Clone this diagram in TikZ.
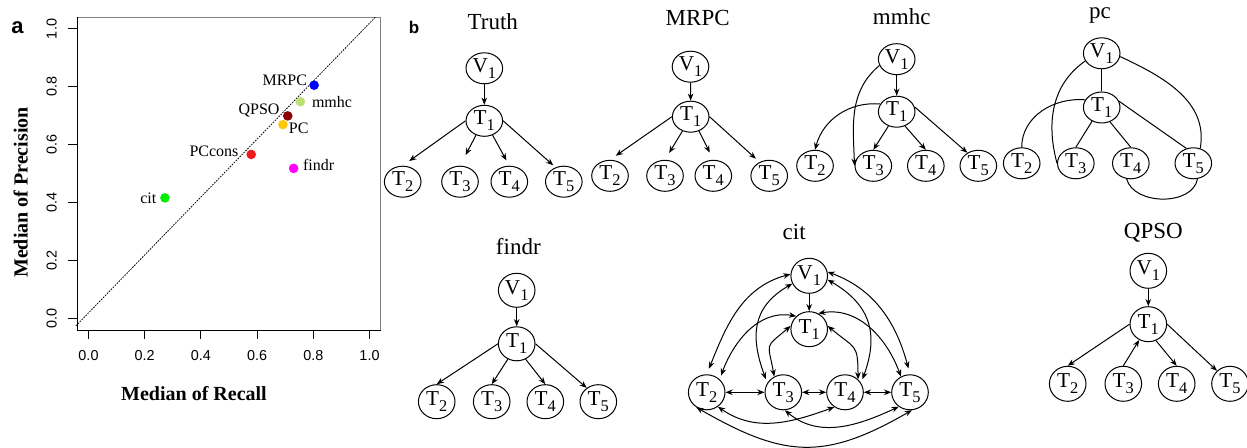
\documentclass[tikz,border=0pt]{standalone}
\usepackage{fontspec}
\setmainfont{Liberation Serif}
\setsansfont{Liberation Sans}
\usepackage{xcolor}
\usepackage{tikz}
\usetikzlibrary{positioning, shapes.geometric, arrows.meta}
\definecolor{ptBlue}{HTML}{0000FF}
\definecolor{ptLime}{HTML}{BBE172}
\definecolor{ptDarkRed}{HTML}{8B0000}
\definecolor{ptGold}{HTML}{FFC60A}
\definecolor{ptRed}{HTML}{F01818}
\definecolor{ptMagenta}{HTML}{FF00FF}
\definecolor{ptGreen}{HTML}{00EE00}
\definecolor{boxGray}{HTML}{808080}
\newcommand{\gv}[2]{#1\raisebox{-0.6ex}{\fontsize{8.2}{9}\selectfont #2}}
\tikzset{
  gnode/.style={
    ellipse, draw, line width=0.5pt,
    inner sep=0pt,
    minimum width=18.3pt, minimum height=#1,
    font=\fontsize{10.6}{11}\selectfont
  },
  gnode/.default=15.5pt,
  dedge/.style={-{Stealth[length=3.6pt, width=2.8pt]}, line width=0.5pt},
  bedge/.style={{Stealth[length=3.6pt, width=2.8pt]}-{Stealth[length=3.6pt, width=2.8pt]}, line width=0.5pt},
  uedge/.style={line width=0.5pt},
  gtitle/.style={anchor=base, inner sep=0pt, font=\fontsize{11.5}{12}\selectfont},
  ptdot/.style={circle, fill=#1, inner sep=0pt, minimum size=4.8pt},
  ptlabel/.style={inner sep=0pt, font=\fontsize{8}{9}\selectfont},
  ticklabel/.style={inner sep=0pt, font=\sffamily\fontsize{7.2}{8}\selectfont},
  axtitle/.style={inner sep=0pt, font=\bfseries\fontsize{10}{11}\selectfont},
  panel/.style={anchor=base, inner sep=0pt, font=\sffamily\bfseries\fontsize{#1}{#1}\selectfont}
}

\begin{document}
\begin{tikzpicture}[x=0.5pt, y=0.5pt]
\useasboundingbox (0,0) rectangle (1247,-448);

% panel a: precision against recall
\node[panel=11] (labA) at (17.5,-33.3) {a};
\begin{scope}[shift={(88.5,-318.7)}, x=140.5pt, y=144.85pt]
  \draw[line width=0.7pt, boxGray] (-0.04,1.04) -- (1.04,1.04) -- (1.04,-0.04);
  \draw[line width=0.7pt] (-0.04,1.04) -- (-0.04,-0.04) -- (1.04,-0.04);
  \draw[line width=0.4pt, dash pattern=on 0.8pt off 0.6pt] (-0.045,-0.025) -- (1.02,1.04);
  \foreach \t/\l [count=\i] in {0/0.0,0.2/0.2,0.4/0.4,0.6/0.6,0.8/0.8,1/1.0} {
    \draw[line width=0.5pt] (\t,-0.04) -- ++(0,-4.2pt);
    \node[ticklabel] (xtick\i) at ([yshift=-12.4pt]\t,-0.04) {\l};
    \draw[line width=0.5pt] (-0.04,\t) -- ++(-4.5pt,0);
    \node[ticklabel, rotate=90] (ytick\i) at ([xshift=-12.8pt]-0.04,\t) {\l};
  }
  \node[ptdot=ptBlue] (pMRPC) at (0.803,0.806) {};
  \node[ptdot=ptLime] (pMmhc) at (0.754,0.749) {};
  \node[ptdot=ptDarkRed] (pQPSO) at (0.709,0.700) {};
  \node[ptdot=ptGold] (pPC) at (0.692,0.670) {};
  \node[ptdot=ptRed] (pPCcons) at (0.579,0.567) {};
  \node[ptdot=ptMagenta] (pFindr) at (0.730,0.519) {};
  \node[ptdot=ptGreen] (pCit) at (0.272,0.417) {};
  \node[ptlabel, anchor=east] (lMRPC) at (0.779,0.822) {MRPC};
  \node[ptlabel, anchor=west] (lMmhc) at (0.794,0.749) {mmhc};
  \node[ptlabel, anchor=east] (lQPSO) at (0.681,0.718) {QPSO};
  \node[ptlabel, anchor=west] (lPC) at (0.712,0.656) {PC};
  \node[ptlabel, anchor=east] (lPCcons) at (0.535,0.577) {PCcons};
  \node[ptlabel, anchor=west] (lFindr) at (0.762,0.532) {findr};
  \node[ptlabel, anchor=east] (lCit) at (0.243,0.416) {cit};
\end{scope}
\node[axtitle] (xTitle) at (194,-393.3) {Median of Recall};
\node[axtitle, rotate=90] (yTitle) at (20.8,-192.5) {Median of Precision};

% panel b: recovered graphs
\node[panel=8.5] (labB) at (414,-33.3) {b};

% Truth
\node[gtitle] (trTitle) at (492.8,-29.3) {Truth};
\node[gnode] (trV1) at (484.3,-68.3) {\gv{V}{1}};
\node[gnode] (trT1) at (484.3,-120.8) {\gv{T}{1}};
\node[gnode] (trT2) at (402.7,-181.7) {\gv{T}{2}};
\node[gnode] (trT3) at (460,-181.7) {\gv{T}{3}};
\node[gnode] (trT4) at (509.3,-181.7) {\gv{T}{4}};
\node[gnode] (trT5) at (563.8,-181.7) {\gv{T}{5}};
\draw[dedge] (trV1) -- (trT1);
\draw[dedge, shorten >=4pt] (trT1.west) -- (trT2.north);
\draw[dedge, shorten >=6pt] (trT1.240) -- (trT3.north);
\draw[dedge, shorten >=3pt] (trT1.300) -- (trT4.north);
\draw[dedge, shorten >=1.5pt] (trT1.east) -- (trT5.120);

% MRPC
\node[gtitle] (mrTitle) at (697.7,-26) {MRPC};
\node[gnode] (mrV1) at (690.5,-66.7) {\gv{V}{1}};
\node[gnode] (mrT1) at (690.7,-116.7) {\gv{T}{1}};
\node[gnode] (mrT2) at (610,-175.8) {\gv{T}{2}};
\node[gnode] (mrT3) at (665,-175.8) {\gv{T}{3}};
\node[gnode] (mrT4) at (713.3,-175.8) {\gv{T}{4}};
\node[gnode] (mrT5) at (769.2,-175.8) {\gv{T}{5}};
\draw[dedge] (mrV1) -- (mrT1);
\draw[dedge, shorten >=3.5pt] (mrT1.west) -- (mrT2.north);
\draw[dedge, shorten >=4pt] (mrT1.240) -- (mrT3.north);
\draw[dedge, shorten >=4pt] (mrT1.300) -- (mrT4.north);
\draw[dedge, shorten >=2.5pt] (mrT1.east) -- (mrT5.125);

% mmhc
\node[gtitle] (mmTitle) at (901.7,-25) {mmhc};
\node[gnode] (mmV1) at (896.7,-59.2) {\gv{V}{1}};
\node[gnode] (mmT1) at (896.7,-111.7) {\gv{T}{1}};
\node[gnode] (mmT2) at (815,-165.8) {\gv{T}{2}};
\node[gnode] (mmT3) at (873.3,-165.8) {\gv{T}{3}};
\node[gnode] (mmT4) at (925.8,-165.8) {\gv{T}{4}};
\node[gnode] (mmT5) at (978.3,-165.8) {\gv{T}{5}};
\draw[dedge] (mmV1) -- (mmT1);
\draw[dedge] (mmT1.240) -- (mmT3.north);
\draw[dedge] (mmT1.300) -- (mmT4.north);
\draw[dedge] (mmT1.15) -- (mmT5.130);
\draw[dedge] (mmT1.155) to[out=175, in=75] (mmT2.north);
\draw[dedge] (mmV1.200) to[out=220, in=92] (mmT3.west);

% pc
\node[gtitle] (pcTitle) at (1100,-18.7) {pc};
\node[gnode] (pcV1) at (1101.7,-53.3) {\gv{V}{1}};
\node[gnode] (pcT1) at (1101.7,-107.5) {\gv{T}{1}};
\node[gnode] (pcT2) at (1021.7,-163.3) {\gv{T}{2}};
\node[gnode] (pcT3) at (1075.8,-163.3) {\gv{T}{3}};
\node[gnode] (pcT4) at (1130.8,-163.3) {\gv{T}{4}};
\node[gnode] (pcT5) at (1193.3,-163.3) {\gv{T}{5}};
\draw[uedge] (pcV1) -- (pcT1);
\draw[uedge] (pcT1.235) -- (pcT3.north);
\draw[uedge] (pcT1.300) -- (pcT4.north);
\draw[uedge] (pcT1.20) -- (pcT5.115);
\draw[uedge] (pcT1.155) to[out=175, in=90] (pcT2.north);
\draw[uedge] (pcV1.205) to[out=215, in=105] (pcT3.west);
\draw[uedge] (pcV1.350) to[out=-25, in=80] (pcT5.65);
\draw[uedge] (pcT4.255) to[out=-75, in=-100] (pcT5.285);

% findr
\node[gtitle] (fdTitle) at (518.3,-255) {findr};
\node[gnode=17pt] (fdV1) at (516.7,-290.3) {\gv{V}{1}};
\node[gnode=17pt] (fdT1) at (516.7,-343.8) {\gv{T}{1}};
\node[gnode=17pt] (fdT2) at (436.7,-401.7) {\gv{T}{2}};
\node[gnode=17pt] (fdT3) at (491.7,-401.7) {\gv{T}{3}};
\node[gnode=17pt] (fdT4) at (545.3,-401.7) {\gv{T}{4}};
\node[gnode=17pt] (fdT5) at (598.3,-401.7) {\gv{T}{5}};
\draw[dedge] (fdV1) -- (fdT1);
\draw[dedge] (fdT1.west) -- (fdT2.north);
\draw[dedge] (fdT1.240) -- (fdT3.north);
\draw[dedge] (fdT1.300) -- (fdT4.north);
\draw[dedge] (fdT1.east) -- (fdT5.130);

% cit
\node[gtitle] (ctTitle) at (794.2,-240) {cit};
\node[gnode=17.5pt] (ctV1) at (809.2,-275.8) {\gv{V}{1}};
\node[gnode=17.5pt] (ctT1) at (809.2,-329.2) {\gv{T}{1}};
\node[gnode=17.5pt] (ctT2) at (706.7,-392.3) {\gv{T}{2}};
\node[gnode=17.5pt] (ctT3) at (783.3,-392.3) {\gv{T}{3}};
\node[gnode=17.5pt] (ctT4) at (845,-392.3) {\gv{T}{4}};
\node[gnode=17.5pt] (ctT5) at (910,-392.3) {\gv{T}{5}};
\draw[dedge] (ctV1) -- (ctT1);
\draw[bedge] (ctT2) -- (ctT3);
\draw[bedge] (ctT3) -- (ctT4);
\draw[bedge] (ctT4) -- (ctT5);
\draw[bedge, shorten >=3pt] (ctV1.175) to[out=195, in=68] (ctT2.north);
\draw[bedge, shorten >=2pt] (ctV1.205) to[out=210, in=110, looseness=1.2] (ctT3.150);
\draw[bedge, shorten >=2pt] (ctV1.-12) to[out=-30, in=70, looseness=1.2] (ctT4.30);
\draw[bedge, shorten >=3pt] (ctV1.12) to[out=-20, in=105] (ctT5.north);
\draw[bedge, shorten >=2pt] (ctT1.135) to[out=170, in=70] (ctT2.45);
\draw[bedge] (ctT1.170) to[out=220, in=100, looseness=1.7] (ctT3.120);
\draw[bedge] (ctT1.10) to[out=-40, in=90, looseness=1.5] (ctT4.45);
\draw[bedge] (ctT1.60) to[out=10, in=110] (ctT5.120);
\draw[bedge] (ctT2.-52) to[out=-35, in=-160] (ctT4.-126);
\draw[bedge] (ctT3.-85) to[out=-40, in=-155] (ctT5.-128);
\draw[bedge] (ctT2.-125) to[out=-30, in=-150, looseness=1.2] (ctT5.-84);

% QPSO
\node[gtitle] (qpTitle) at (1153.3,-238.3) {QPSO};
\node[gnode=17.5pt] (qpV1) at (1148.3,-270.8) {\gv{V}{1}};
\node[gnode=17.5pt] (qpT1) at (1148.3,-324.2) {\gv{T}{1}};
\node[gnode=17.5pt] (qpT2) at (1067.7,-383.8) {\gv{T}{2}};
\node[gnode=17.5pt] (qpT3) at (1123.3,-383.8) {\gv{T}{3}};
\node[gnode=17.5pt] (qpT4) at (1176.7,-383.8) {\gv{T}{4}};
\node[gnode=17.5pt] (qpT5) at (1230,-383.8) {\gv{T}{5}};
\draw[dedge] (qpV1) -- (qpT1);
\draw[dedge] (qpT1.west) -- (qpT2.north);
\draw[dedge] (qpT3.north) -- (qpT1.240);
\draw[dedge] (qpT1.295) -- (qpT4.north);
\draw[dedge] (qpT1.east) -- (qpT5.135);
\end{tikzpicture}
\end{document}
